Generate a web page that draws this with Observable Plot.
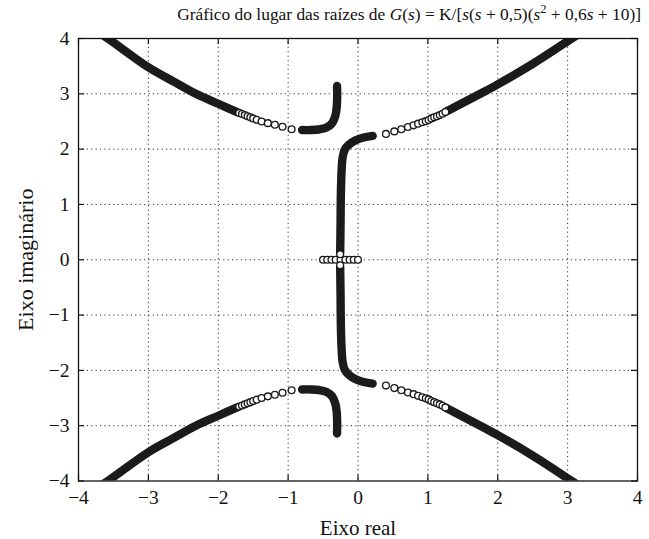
<!DOCTYPE html>
<html>
<head>
<meta charset="utf-8">
<script src="https://cdn.jsdelivr.net/npm/d3@7"></script>
<script src="https://cdn.jsdelivr.net/npm/@observablehq/plot@0.6"></script>
<style>
  html, body { margin: 0; padding: 0; background: #fff; }
  #chart { position: relative; width: 649px; height: 539px; font-family: "Liberation Serif", "DejaVu Serif", serif; color: #111; }
  #chart svg { position: absolute; left: 0; top: 0; z-index: 0; }
  #title { position: absolute; top: 1px; right: 8px; z-index: 2; font-size: 17.4px; white-space: nowrap; line-height: 26px; }
  #title sup { font-size: 0.72em; vertical-align: 0.55em; line-height: 0; }
</style>
</head>
<body>
<div id="chart">
  <div id="title">Gráfico do lugar das raízes de <i>G</i>(<i>s</i>) = K/[<i>s</i>(<i>s</i> + 0,5)(<i>s</i><sup>2</sup> + 0,6<i>s</i> + 10)]</div>
</div>
<script>
// Axis ticks (real and imaginary parts)
const xTicks = [-4, -3, -2, -1, 0, 1, 2, 3, 4];
const yTicks = [-4, -3, -2, -1, 0, 1, 2, 3, 4];
const gridTicks = [-3, -2, -1, 1, 2, 3, 0];

// Closed-loop roots [real, imaginary] as K grows.
// Densely sampled stretches (the markers merge into a solid band):
const bandUpperLeft = [[-3.78, 4.16], [-3.58, 4.0], [-3.0, 3.48], [-2.65, 3.23], [-2.32, 3.0], [-2.0, 2.82], [-1.73, 2.67]];
const bandLowerLeft = [[-3.78, -4.16], [-3.58, -4.0], [-3.0, -3.48], [-2.65, -3.23], [-2.32, -3.0], [-2.0, -2.82], [-1.73, -2.67]];
const bandUpperPole = [[-0.30, 3.14], [-0.298, 2.95], [-0.305, 2.75], [-0.325, 2.6], [-0.37, 2.47], [-0.45, 2.39], [-0.56, 2.355], [-0.68, 2.345], [-0.80, 2.345]];
const bandLowerPole = [[-0.30, -3.14], [-0.298, -2.95], [-0.305, -2.75], [-0.325, -2.6], [-0.37, -2.47], [-0.45, -2.39], [-0.56, -2.355], [-0.68, -2.345], [-0.80, -2.345]];
const bandUpperCenter = [[-0.255, 0.13], [-0.25, 0.6], [-0.245, 1.2], [-0.235, 1.6], [-0.22, 1.85], [-0.19, 1.99], [-0.13, 2.08], [-0.04, 2.155], [0.08, 2.21], [0.21, 2.24]];
const bandLowerCenter = [[-0.255, -0.13], [-0.25, -0.6], [-0.245, -1.2], [-0.235, -1.6], [-0.22, -1.85], [-0.19, -1.99], [-0.13, -2.08], [-0.04, -2.155], [0.08, -2.21], [0.21, -2.24]];
const bandUpperRight = [[1.27, 2.685], [1.4, 2.77], [1.75, 3.0], [2.0, 3.17], [2.5, 3.54], [3.06, 4.0], [3.3, 4.2]];
const bandLowerRight = [[1.27, -2.685], [1.4, -2.77], [1.75, -3.0], [2.0, -3.17], [2.5, -3.54], [3.06, -4.0], [3.3, -4.2]];

// Sparser stretches, where the individual "o" markers are visible:
const dotsUpperLeft = [[-1.70, 2.655], [-1.66, 2.635], [-1.62, 2.615], [-1.58, 2.595], [-1.54, 2.575], [-1.50, 2.555], [-1.45, 2.53], [-1.38, 2.50], [-1.29, 2.47], [-1.19, 2.44], [-1.08, 2.405], [-0.95, 2.36]];
const dotsLowerLeft = [[-1.70, -2.655], [-1.66, -2.635], [-1.62, -2.615], [-1.58, -2.595], [-1.54, -2.575], [-1.50, -2.555], [-1.45, -2.53], [-1.38, -2.50], [-1.29, -2.47], [-1.19, -2.44], [-1.08, -2.405], [-0.95, -2.36]];
const dotsUpperRight = [[0.40, 2.275], [0.52, 2.32], [0.62, 2.36], [0.715, 2.40], [0.795, 2.43], [0.86, 2.46], [0.92, 2.485], [0.97, 2.505], [1.01, 2.525], [1.05, 2.555], [1.09, 2.575], [1.13, 2.595], [1.17, 2.615], [1.21, 2.64], [1.25, 2.67]];
const dotsLowerRight = [[0.40, -2.275], [0.52, -2.32], [0.62, -2.36], [0.715, -2.40], [0.795, -2.43], [0.86, -2.46], [0.92, -2.485], [0.97, -2.505], [1.01, -2.525], [1.05, -2.555], [1.09, -2.575], [1.13, -2.595], [1.17, -2.615], [1.21, -2.64], [1.25, -2.67]];
// Real-axis segment between the poles at 0 and -0,5, and the breakaway
const dotsRealAxis = [[-0.50, 0], [-0.44, 0], [-0.38, 0], [-0.32, 0], [-0.25, 0], [-0.18, 0], [-0.12, 0], [-0.06, 0], [0.0, 0], [-0.255, 0.10], [-0.255, -0.10]];

const bands = [bandUpperLeft, bandLowerLeft, bandUpperPole, bandLowerPole, bandUpperCenter, bandLowerCenter, bandUpperRight, bandLowerRight];
const dots = [dotsUpperLeft, dotsLowerLeft, dotsUpperRight, dotsLowerRight, dotsRealAxis];

const W = 649, H = 539;
const mL = 78, mR = 12, mT = 38, mB = 58.5;
const innerW = W - mL - mR, innerH = H - mT - mB;
const ink = "#1b1b1b";
const tickLen = 6;

const marks = [
  // dotted grid
  Plot.ruleX(gridTicks, {x: d => d, stroke: "#333", strokeWidth: 1, strokeDasharray: "1.2,3.2"}),
  Plot.ruleY(gridTicks, {y: d => d, stroke: "#333", strokeWidth: 1, strokeDasharray: "1.2,3.2"}),
  // dense root-locus stretches
  ...bands.map(b => Plot.line(b, {x: d => d[0], y: d => d[1], stroke: ink, strokeWidth: 8.4, strokeLinecap: "round", strokeLinejoin: "round", curve: "catmull-rom", clip: true})),
  // individual markers
  ...dots.map(p => Plot.dot(p, {x: d => d[0], y: d => d[1], r: 3.4, stroke: ink, strokeWidth: 1.35, fill: "white", clip: true})),
  Plot.frame({stroke: "#111", strokeWidth: 1.3}),
  // inward tick marks on all four sides
  Plot.tickX(xTicks, {x: d => d, insetTop: innerH - tickLen, stroke: "#111", strokeWidth: 1.2}),
  Plot.tickX(xTicks, {x: d => d, insetBottom: innerH - tickLen, stroke: "#111", strokeWidth: 1.2}),
  Plot.tickY(yTicks, {y: d => d, insetRight: innerW - tickLen, stroke: "#111", strokeWidth: 1.2}),
  Plot.tickY(yTicks, {y: d => d, insetLeft: innerW - tickLen, stroke: "#111", strokeWidth: 1.2}),
  Plot.axisX({ticks: xTicks, tickSize: 0, tickPadding: 9, fontSize: 19.5, label: null}),
  Plot.axisY({ticks: yTicks, tickSize: 0, tickPadding: 9, fontSize: 19.5, label: null}),
  Plot.text(["Eixo real"], {text: d => d, frameAnchor: "bottom", dy: 47, textAnchor: "middle", lineAnchor: "middle", fontSize: 21}),
  Plot.text(["Eixo imaginário"], {text: d => d, frameAnchor: "left", dx: -53, rotate: -90, textAnchor: "middle", lineAnchor: "middle", fontSize: 22})
];

const svg = Plot.plot({
  width: W,
  height: H,
  marginLeft: mL,
  marginRight: mR,
  marginTop: mT,
  marginBottom: mB,
  x: {domain: [-4, 4]},
  y: {domain: [-4, 4]},
  style: {fontFamily: '"Liberation Serif", "DejaVu Serif", serif', fontSize: "19px", color: "#111", background: "transparent"},
  marks
});
document.getElementById("chart").appendChild(svg);
</script>
</body>
</html>
